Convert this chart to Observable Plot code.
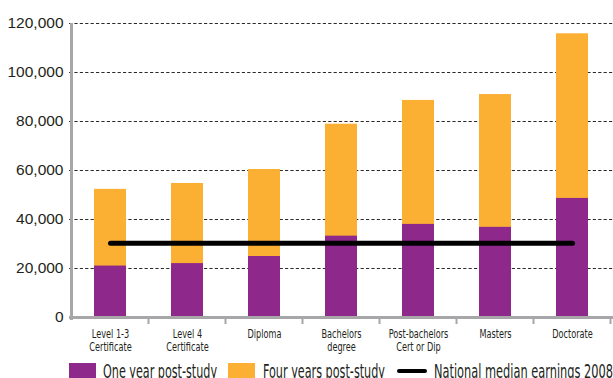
<!DOCTYPE html>
<html>
<head>
<meta charset="utf-8">
<script src="https://cdn.jsdelivr.net/npm/d3@7"></script>
<script src="https://cdn.jsdelivr.net/npm/@observablehq/plot@0.6"></script>
<style>
  html, body { margin: 0; padding: 0; background: #fff; overflow: hidden; }
  #wrap { position: relative; width: 613px; height: 378px; overflow: hidden; }
  #chart svg { display: block; }
  .legend { position: absolute; left: 0; top: 0; width: 613px; height: 378px; pointer-events: none; }
  .sw { position: absolute; top: 363px; width: 27px; height: 20px; }
  .sw-line { position: absolute; top: 368.5px; width: 30px; height: 4.5px; border-radius: 3px; background: #000; }
  .lt { position: absolute; top: 359px; white-space: nowrap; color: #231f20;
        font-family: "Liberation Sans Narrow", "DejaVu Sans Condensed", "Liberation Sans", sans-serif;
        font-size: 19px; line-height: 24px; transform-origin: 0 0; display: inline-block; }
</style>
</head>
<body>
<div id="wrap">
  <div id="chart"></div>
  <div class="legend" id="legend"></div>
</div>
<script>
// Median earnings by qualification level (NZ$)
const levels = ["Level 1-3 Certificate", "Level 4 Certificate", "Diploma", "Bachelors degree",
                "Post-bachelors Cert or Dip", "Masters", "Doctorate"];
const tickLabels = ["Level 1-3\nCertificate", "Level 4\nCertificate", "Diploma", "Bachelors\ndegree",
                    "Post-bachelors\nCert or Dip", "Masters", "Doctorate"];
const oneYear = [21000, 22000, 24900, 33200, 38000, 36800, 48600];
const fourYears = [52300, 54700, 60400, 78900, 88600, 91000, 115800];
const nationalMedian2008 = 30300;
const yTicks = [0, 20000, 40000, 60000, 80000, 100000, 120000];

const seriesNames = ["One year post-study", "Four years post-study", "National median earnings 2008"];
const purple = "#8e298b";
const orange = "#fbb034";
const axisGray = "#a7a7a9";

const rows = levels.map((level, i) => ({level, one: oneYear[i], four: fourYears[i], median: nationalMedian2008}));
const labelOf = new Map(levels.map((l, i) => [l, tickLabels[i]]));

// Left axis line plus the small tick marks between categories
function categoryFrame(index, scales) {
  const x = scales.x, y = scales.y;
  const step = x.step(), bw = x.bandwidth();
  const half = (step - bw) / 2;
  const y0 = y(0), yTop = y(yTicks[yTicks.length - 1]);
  const bounds = levels.map(l => x(l) - half);
  bounds.push(x(levels[levels.length - 1]) + bw + half);
  const g = d3.create("svg:g").attr("stroke", axisGray).attr("fill", "none");
  g.append("line").attr("x1", bounds[0]).attr("x2", bounds[0])
    .attr("y1", yTop).attr("y2", y0 + 3).attr("stroke-width", 3);
  for (const bx of bounds.slice(1)) {
    g.append("line").attr("x1", bx).attr("x2", bx).attr("y1", y0).attr("y2", y0 + 7).attr("stroke-width", 2);
  }
  return g.node();
}

const chart = Plot.plot({
  width: 613,
  height: 358,
  marginLeft: 69,
  marginRight: 0,
  marginTop: 23,
  marginBottom: 41,
  style: {fontFamily: "'Liberation Sans', Arial, sans-serif", color: "#231f20", background: "#fff"},
  x: {domain: levels, paddingInner: 0.59, paddingOuter: 0.295, axis: null, label: null},
  y: {domain: [0, 120000], axis: null, label: null},
  marks: [
    Plot.gridY(yTicks.slice(1), {stroke: "#2a2a2a", strokeOpacity: 1, strokeWidth: 1, strokeDasharray: "3.2,2.2"}),
    Plot.axisY(yTicks, {tickSize: 0, tickPadding: 6, fontSize: 15.5, label: null, tickFormat: d3.format(","), fill: "#231f20"}),
    Plot.barY(rows, {x: "level", y: "four", fill: orange}),
    Plot.barY(rows, {x: "level", y: "one", fill: purple}),
    Plot.ruleY([0], {stroke: axisGray, strokeWidth: 3}),
    categoryFrame,
    Plot.lineY(rows, {x: "level", y: "median", stroke: "#000", strokeWidth: 5, strokeLinecap: "round"}),
    Plot.axisX({tickSize: 0, tickPadding: 11, fontSize: 12, lineHeight: 1.08, fill: "#231f20", label: null,
                fontFamily: "'Liberation Sans Narrow', 'DejaVu Sans Condensed', 'Liberation Sans', sans-serif",
                tickFormat: d => labelOf.get(d)})
  ]
});
document.getElementById("chart").append(chart);

// Condense the category labels to the narrow look of the axis
const xLabelTexts = [...chart.querySelectorAll("g[aria-label='x-axis tick label'] text")];
const ref = xLabelTexts.find(t => t.textContent.startsWith("Post-bachelors"));
if (ref) {
  const w = ref.getBBox().width;
  const sx = Math.min(1, 60 / w);
  for (const t of xLabelTexts) {
    const tr = t.getAttribute("transform") || "";
    t.setAttribute("transform", `${tr} scale(${sx},1)`);
  }
}

// Legend below the plot
const legend = document.getElementById("legend");
const legendItems = [
  {kind: "swatch", color: purple, left: 69, textLeft: 103, textWidth: 114, name: seriesNames[0]},
  {kind: "swatch", color: orange, left: 228, textLeft: 263, textWidth: 122, name: seriesNames[1]},
  {kind: "line", left: 397, textLeft: 434, textWidth: 179, name: seriesNames[2]}
];
for (const item of legendItems) {
  const sw = document.createElement("div");
  sw.className = item.kind === "line" ? "sw-line" : "sw";
  sw.style.left = item.left + "px";
  if (item.kind !== "line") sw.style.background = item.color;
  legend.append(sw);
  const t = document.createElement("span");
  t.className = "lt";
  t.textContent = item.name;
  t.style.left = item.textLeft + "px";
  legend.append(t);
  const w = t.getBoundingClientRect().width;
  t.style.transform = `scaleX(${item.textWidth / w})`;
}
</script>
</body>
</html>
